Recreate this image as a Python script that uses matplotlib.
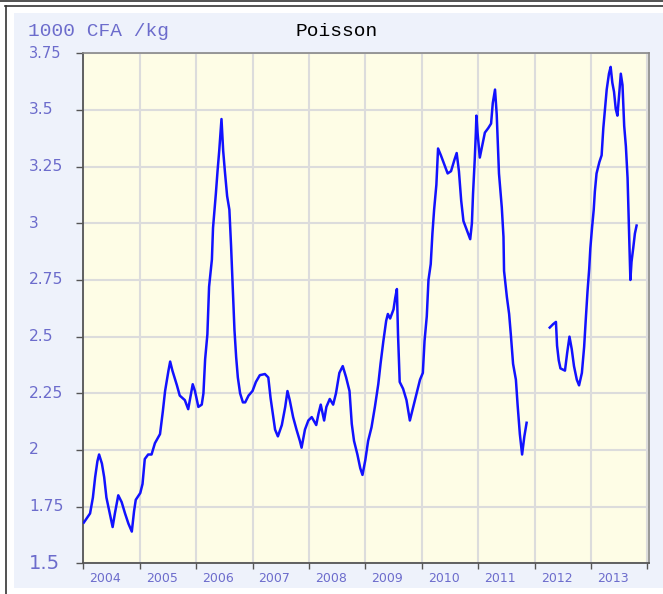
import numpy as np
import matplotlib
matplotlib.use("Agg")
import matplotlib.pyplot as plt
from matplotlib.patches import Rectangle
from matplotlib.lines import Line2D
from matplotlib.transforms import blended_transform_factory

# ---- data (decimal year, 1000 CFA/kg) ----
seg1_years = [2004.01, 2004.12, 2004.17, 2004.21, 2004.25, 2004.28, 2004.33, 2004.37, 2004.41, 2004.46,
              2004.52, 2004.56, 2004.62, 2004.68, 2004.74, 2004.80, 2004.86, 2004.90, 2004.93, 2005.01,
              2005.05, 2005.09, 2005.15, 2005.21, 2005.27, 2005.36, 2005.41, 2005.45, 2005.51, 2005.54,
              2005.58, 2005.66, 2005.71, 2005.80, 2005.86, 2005.94, 2005.98, 2006.04, 2006.10, 2006.13,
              2006.16, 2006.20, 2006.23, 2006.28, 2006.30, 2006.35, 2006.38, 2006.41, 2006.45, 2006.48,
              2006.51, 2006.55, 2006.59, 2006.62, 2006.65, 2006.68, 2006.71, 2006.74, 2006.78, 2006.83,
              2006.87, 2006.93, 2007.00, 2007.06, 2007.13, 2007.22, 2007.28, 2007.32, 2007.36, 2007.40,
              2007.45, 2007.52, 2007.58, 2007.62, 2007.66, 2007.72, 2007.78, 2007.84, 2007.87, 2007.93,
              2007.99, 2008.05, 2008.13, 2008.17, 2008.21, 2008.27, 2008.31, 2008.37, 2008.43, 2008.48,
              2008.54, 2008.60, 2008.66, 2008.72, 2008.76, 2008.80, 2008.86, 2008.91, 2008.95, 2009.00,
              2009.05, 2009.11, 2009.17, 2009.23, 2009.27, 2009.32, 2009.37, 2009.40, 2009.44, 2009.50,
              2009.53, 2009.56, 2009.58, 2009.61, 2009.67, 2009.73, 2009.79, 2009.85, 2009.91, 2009.97,
              2010.02, 2010.05, 2010.09, 2010.12, 2010.16, 2010.19, 2010.22, 2010.26, 2010.29, 2010.34,
              2010.40, 2010.46, 2010.52, 2010.58, 2010.62, 2010.66, 2010.70, 2010.74, 2010.80, 2010.86,
              2010.89, 2010.91, 2010.94, 2010.96, 2010.97, 2010.99, 2011.03, 2011.07, 2011.12, 2011.18,
              2011.23, 2011.26, 2011.30, 2011.33, 2011.37, 2011.42, 2011.45, 2011.46, 2011.51, 2011.55,
              2011.58, 2011.62, 2011.67, 2011.70, 2011.74, 2011.78, 2011.82, 2011.86]
seg1_values = [1.68, 1.72, 1.79, 1.88, 1.95, 1.98, 1.94, 1.88, 1.79, 1.73,
               1.66, 1.72, 1.80, 1.77, 1.72, 1.675, 1.64, 1.73, 1.78, 1.81,
               1.85, 1.96, 1.98, 1.98, 2.03, 2.07, 2.17, 2.26, 2.35, 2.39,
               2.35, 2.285, 2.24, 2.22, 2.18, 2.29, 2.26, 2.19, 2.20, 2.25,
               2.40, 2.51, 2.72, 2.84, 2.98, 3.13, 3.23, 3.32, 3.46, 3.32,
               3.23, 3.12, 3.06, 2.90, 2.72, 2.53, 2.41, 2.32, 2.25, 2.21,
               2.21, 2.24, 2.26, 2.30, 2.33, 2.335, 2.32, 2.23, 2.16, 2.09,
               2.06, 2.11, 2.19, 2.26, 2.22, 2.145, 2.09, 2.04, 2.01, 2.09,
               2.13, 2.145, 2.11, 2.16, 2.20, 2.13, 2.19, 2.225, 2.20, 2.25,
               2.34, 2.37, 2.32, 2.26, 2.115, 2.04, 1.98, 1.92, 1.89, 1.955,
               2.04, 2.10, 2.19, 2.29, 2.38, 2.48, 2.57, 2.60, 2.58, 2.62,
               2.67, 2.71, 2.51, 2.30, 2.27, 2.22, 2.13, 2.19, 2.25, 2.31,
               2.34, 2.48, 2.59, 2.75, 2.82, 2.955, 3.06, 3.17, 3.33, 3.30,
               3.26, 3.22, 3.23, 3.28, 3.31, 3.23, 3.10, 3.01, 2.97, 2.93,
               3.00, 3.13, 3.28, 3.40, 3.475, 3.40, 3.29, 3.34, 3.40, 3.42,
               3.44, 3.53, 3.59, 3.48, 3.22, 3.07, 2.94, 2.79, 2.675, 2.60,
               2.51, 2.38, 2.31, 2.20, 2.07, 1.98, 2.06, 2.12]

seg2_years = [2012.27, 2012.33, 2012.38, 2012.40, 2012.43, 2012.46, 2012.54, 2012.58, 2012.62, 2012.66,
              2012.70, 2012.75, 2012.79, 2012.84, 2012.88, 2012.91, 2012.94, 2012.97, 2012.99, 2013.02,
              2013.05, 2013.07, 2013.10, 2013.15, 2013.19, 2013.22, 2013.25, 2013.28, 2013.32, 2013.35,
              2013.38, 2013.41, 2013.44, 2013.47, 2013.50, 2013.53, 2013.56, 2013.59, 2013.62, 2013.65,
              2013.67, 2013.69, 2013.70, 2013.72, 2013.75, 2013.78, 2013.81]
seg2_values = [2.54, 2.555, 2.565, 2.46, 2.395, 2.36, 2.35, 2.43, 2.50, 2.445,
               2.37, 2.31, 2.285, 2.34, 2.455, 2.58, 2.70, 2.80, 2.89, 2.98,
               3.06, 3.14, 3.22, 3.27, 3.30, 3.42, 3.505, 3.59, 3.66, 3.69,
               3.62, 3.58, 3.505, 3.475, 3.565, 3.66, 3.61, 3.43, 3.34, 3.20,
               3.02, 2.84, 2.75, 2.83, 2.89, 2.955, 2.99]

year_labels = ["2004", "2005", "2006", "2007", "2008", "2009", "2010", "2011", "2012", "2013"]
y_ticks = [1.5, 1.75, 2.0, 2.25, 2.5, 2.75, 3.0, 3.25, 3.5, 3.75]
y_tick_labels = ["1.5", "1.75", "2", "2.25", "2.5", "2.75", "3", "3.25", "3.5", "3.75"]
unit_label = "1000 CFA /kg"
title = "Poisson"

W, H = 663, 594
fig = plt.figure(figsize=(W / 100, H / 100), dpi=100)
fig.patch.set_facecolor("white")

def fx(px):
    return px / W

def fy(py):
    return 1 - py / H

# background panel and frame lines
fig.add_artist(Rectangle((fx(14), fy(588)), fx(663 - 14), (588 - 13) / H,
                         transform=fig.transFigure, facecolor="#EEF2FB", edgecolor="none", zorder=0))
fig.add_artist(Line2D([0, 1], [fy(1), fy(1)], transform=fig.transFigure, color="#333333", lw=1.2))
fig.add_artist(Line2D([fx(5), 1], [fy(5.5), fy(5.5)], transform=fig.transFigure, color="#333333", lw=1.2))
fig.add_artist(Line2D([fx(5.5), fx(5.5)], [fy(5.5), 0], transform=fig.transFigure, color="#333333", lw=1.2))

ax = fig.add_axes([fx(83.3), fy(563.3), fx(649 - 83.3), (563.3 - 53.3) / H])
ax.set_facecolor("#FEFDE6")

ax.plot(seg1_years, seg1_values, color="#1212FF", lw=1.8, zorder=3)
ax.plot(seg2_years, seg2_values, color="#1212FF", lw=1.8, zorder=3)

ax.set_xlim(2004, 2014.03)
ax.set_ylim(1.5, 3.75)

label_col = "#6C6CCC"

ax.set_yticks(y_ticks)
ax.set_yticklabels([])
years_int = [int(s) for s in year_labels]
ax.set_xticks(years_int + [2014])
ax.set_xticklabels([])
ax.set_xticks([y + 0.39 for y in years_int], minor=True)
ax.set_xticklabels(year_labels, minor=True)

ax.grid(True, which="major", color="#DCDCDC", lw=1.5, zorder=1)
ax.set_axisbelow(True)

ax.tick_params(axis="y", which="major", direction="out", length=5, width=1, color="#555555")
ax.tick_params(axis="x", which="major", direction="out", length=4, width=1, color="#555555")
ax.tick_params(axis="x", which="minor", direction="out", length=0,
               labelsize=9, labelcolor=label_col, pad=6)

# y tick labels, left aligned as in the reference
trans = blended_transform_factory(fig.transFigure, ax.transData)
for val, lab in zip(y_ticks, y_tick_labels):
    size = 11.2
    if val == y_ticks[0]:
        size = 14
    elif val == y_ticks[-1]:
        size = 10.5
    ax.text(fx(29), val, lab, transform=trans, ha="left", va="center",
            fontsize=size, color=label_col, clip_on=False)

for s in ["left", "bottom"]:
    ax.spines[s].set_color("#555555")
    ax.spines[s].set_linewidth(1.3)
for s in ["top", "right"]:
    ax.spines[s].set_color("#888888")
    ax.spines[s].set_linewidth(1.2)

fig.text(fx(28), fy(31), unit_label, color=label_col, fontsize=14,
         family="Liberation Mono", va="center", ha="left")
fig.text(fx(337), fy(31), title, color="black", fontsize=14,
         family="Liberation Mono", va="center", ha="center")

fig.savefig("out.png", dpi=100, facecolor=fig.get_facecolor())
